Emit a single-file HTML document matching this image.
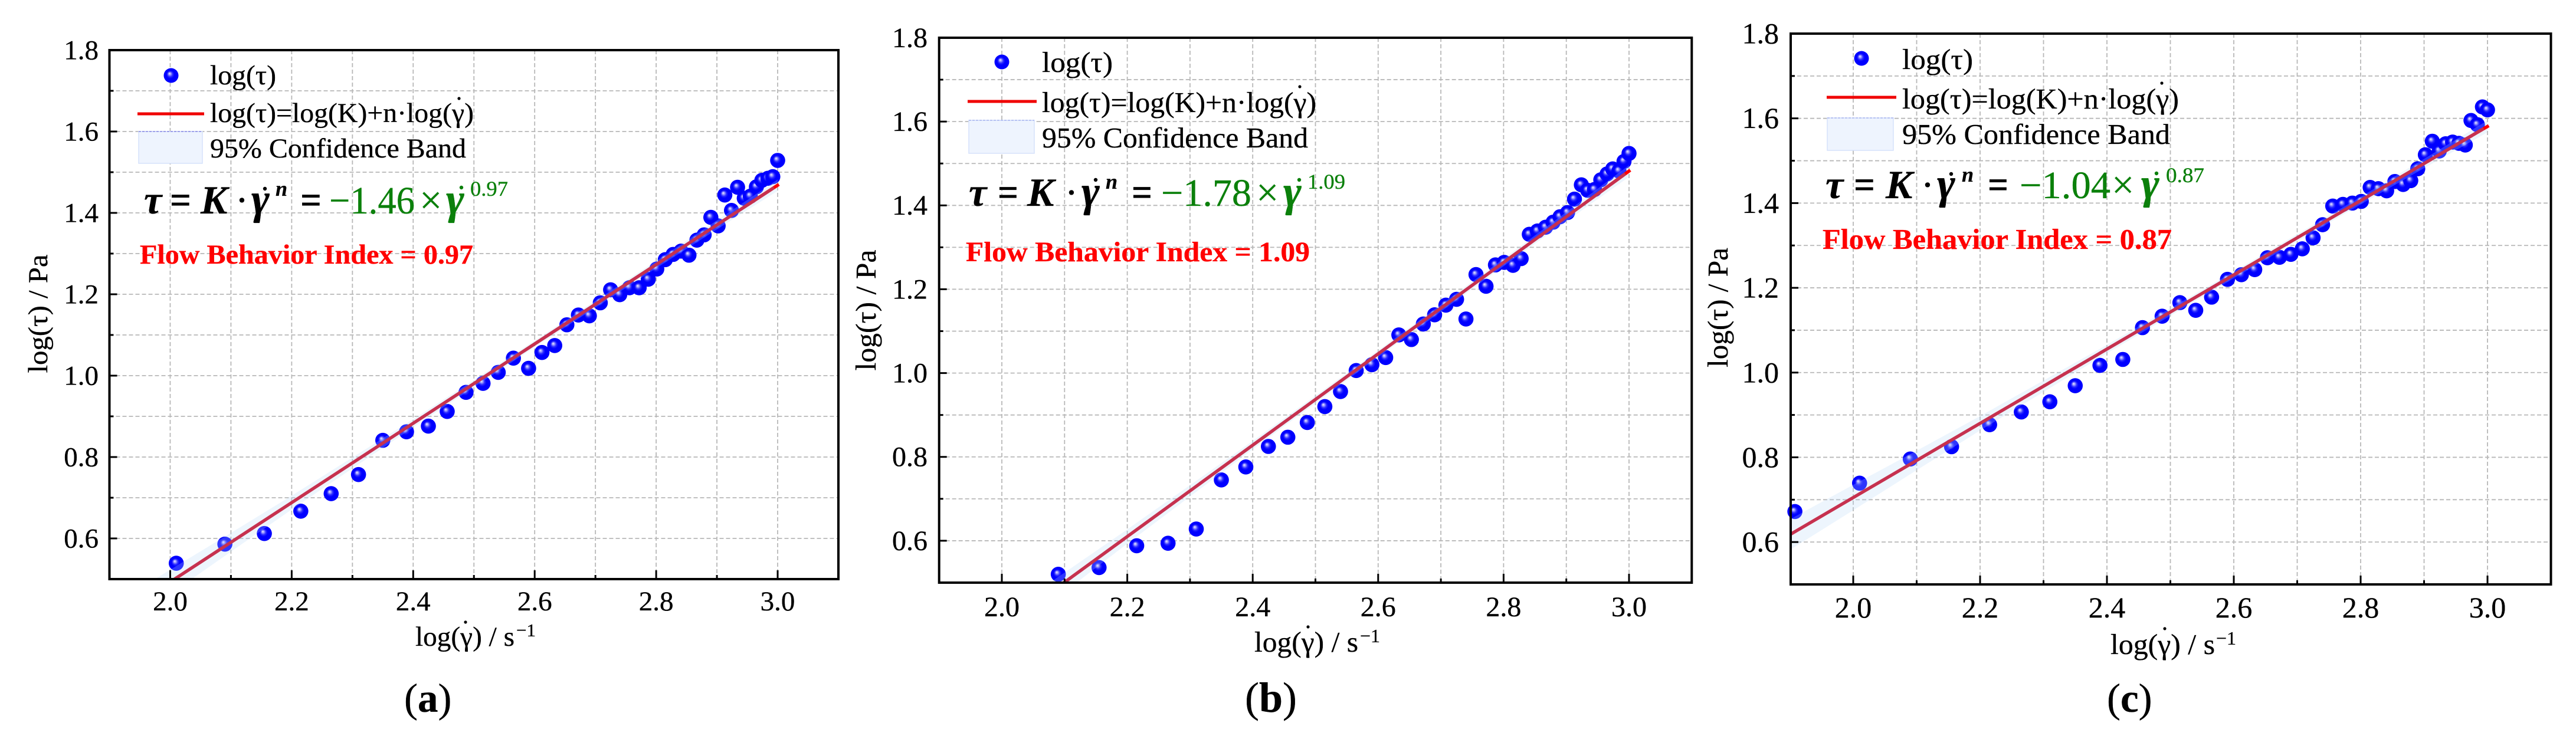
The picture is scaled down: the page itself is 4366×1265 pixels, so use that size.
<!DOCTYPE html>
<html lang="en">
<head>
<meta charset="utf-8">
<title>Flow behaviour log-log fits</title>
<style>
html,body{margin:0;padding:0;background:#fff}
#figure{display:block;width:4366px;height:1265px}
text{font-family:"Liberation Serif",serif;fill:#000;stroke:#000;stroke-width:0.35px}
.bi{font-weight:bold;font-style:italic}
.b{font-weight:bold}
text.g{fill:#0b800b;stroke:#0b800b}
text.r{fill:#ff0000;stroke:#ff0000;font-weight:bold}
</style>
</head>
<body>
<svg id="figure" xmlns="http://www.w3.org/2000/svg" width="4366" height="1265" viewBox="0 0 4366 1265">
<defs>
<radialGradient id="ball" cx="0.5" cy="0.5" r="0.5" fx="0.39" fy="0.36">
<stop offset="0" stop-color="#eeeeff"/>
<stop offset="0.14" stop-color="#a8a8ff"/>
<stop offset="0.36" stop-color="#2a2aff"/>
<stop offset="0.55" stop-color="#0000ff"/>
<stop offset="1" stop-color="#0000ff"/>
</radialGradient>
<clipPath id="clip-a"><rect x="185.5" y="85" width="1235.5" height="897"/></clipPath>
<clipPath id="clip-b"><rect x="1591.7" y="64" width="1275.6" height="924"/></clipPath>
<clipPath id="clip-c"><rect x="3035" y="57" width="1288.5" height="934"/></clipPath>
</defs>
<rect x="0" y="0" width="4366" height="1265" fill="#fff"/>

<g id="plot-a"></g>
<g id="plot-b"></g>
<g id="plot-c"></g>

<!-- Panel A text -->
<g>
  <text font-size="47" text-anchor="middle" textLength="201" lengthAdjust="spacingAndGlyphs" transform="translate(80,532) rotate(-90)">log(τ) / Pa</text>
  <text x="704" y="1095" font-size="47" textLength="168" lengthAdjust="spacingAndGlyphs">log(γ) / s</text>
  <text x="875" y="1079" font-size="31">−1</text>
  <circle cx="789" cy="1055" r="2.6" fill="#000"/>
  <circle cx="290" cy="128" r="12.5" fill="url(#ball)"/>
  <text x="356" y="143" font-size="47" textLength="112" lengthAdjust="spacingAndGlyphs">log(τ)</text>
  <line x1="233" y1="193" x2="346" y2="193" stroke="#f00000" stroke-width="5"/>
  <text x="356" y="207" font-size="47" textLength="447" lengthAdjust="spacingAndGlyphs">log(τ)=log(K)+n·log(γ)</text>
  <circle cx="778" cy="167" r="2.6" fill="#000"/>
  <rect x="235" y="223" width="108" height="54" fill="#eef4fe" stroke="#d6e2fb" stroke-width="1.5"/>
  <line x1="235" y1="223" x2="343" y2="223" stroke="#8a8ae6" stroke-width="1.5" stroke-dasharray="4 2"/>
  <text x="356" y="267" font-size="47" textLength="434" lengthAdjust="spacingAndGlyphs">95% Confidence Band</text>

  <g font-size="68">
    <text class="bi" x="244" y="362">τ</text>
    <text class="b" x="288" y="362" textLength="36" lengthAdjust="spacingAndGlyphs">=</text>
    <text class="bi" x="340" y="362">K</text>
    <text x="410" y="362" text-anchor="middle">·</text>
    <text class="bi" x="426" y="362" font-size="74">γ</text>
    <circle cx="449" cy="320" r="3.2" fill="#000"/>
    <text class="bi" x="467" y="332" font-size="36">n</text>
    <text class="b" x="509" y="362" textLength="36" lengthAdjust="spacingAndGlyphs">=</text>
    <text class="g" x="558" y="362" font-size="66" textLength="145" lengthAdjust="spacingAndGlyphs">−1.46</text>
    <text class="g" x="711" y="362">×</text>
    <text class="bi g" x="756" y="362" font-size="74">γ</text>
    <circle cx="782" cy="318" r="3.2" fill="#0b800b"/>
    <text class="g" x="797" y="332" font-size="36" textLength="64" lengthAdjust="spacingAndGlyphs">0.97</text>
  </g>
  <text class="r" x="237" y="447" font-size="47" textLength="565" lengthAdjust="spacingAndGlyphs">Flow Behavior Index = 0.97</text>
  <text x="685" y="1207" font-size="69">(<tspan class="b">a</tspan>)</text>
</g>

<!-- Panel B text -->
<g>
  <text font-size="49" text-anchor="middle" textLength="205" lengthAdjust="spacingAndGlyphs" transform="translate(1484,526) rotate(-90)">log(τ) / Pa</text>
  <text x="2126" y="1105" font-size="49" textLength="176" lengthAdjust="spacingAndGlyphs">log(γ) / s</text>
  <text x="2305" y="1089" font-size="32">−1</text>
  <circle cx="2217" cy="1063" r="2.6" fill="#000"/>
  <circle cx="1698" cy="105" r="12.5" fill="url(#ball)"/>
  <text x="1766" y="122" font-size="49" textLength="120" lengthAdjust="spacingAndGlyphs">log(τ)</text>
  <line x1="1640" y1="172" x2="1757" y2="172" stroke="#f00000" stroke-width="5"/>
  <text x="1766" y="190" font-size="49" textLength="465" lengthAdjust="spacingAndGlyphs">log(τ)=log(K)+n·log(γ)</text>
  <circle cx="2203" cy="147" r="2.6" fill="#000"/>
  <rect x="1642" y="204" width="111" height="56" fill="#eef4fe" stroke="#d6e2fb" stroke-width="1.5"/>
  <line x1="1642" y1="204" x2="1753" y2="204" stroke="#a8b4ee" stroke-width="1.5" stroke-dasharray="4 2"/>
  <text x="1766" y="250" font-size="49" textLength="451" lengthAdjust="spacingAndGlyphs">95% Confidence Band</text>

  <g font-size="68">
    <text class="bi" x="1642" y="349">τ</text>
    <text class="b" x="1691" y="349" textLength="35" lengthAdjust="spacingAndGlyphs">=</text>
    <text class="bi" x="1741" y="349">K</text>
    <text x="1816" y="349" text-anchor="middle">·</text>
    <text class="bi" x="1833" y="349" font-size="74">γ</text>
    <circle cx="1857" cy="305" r="3.2" fill="#000"/>
    <text class="bi" x="1874" y="320" font-size="36">n</text>
    <text class="b" x="1918" y="349" textLength="35" lengthAdjust="spacingAndGlyphs">=</text>
    <text class="g" x="1968" y="349" font-size="66" textLength="153" lengthAdjust="spacingAndGlyphs">−1.78</text>
    <text class="g" x="2129" y="349">×</text>
    <text class="bi g" x="2175" y="349" font-size="74">γ</text>
    <circle cx="2202" cy="305" r="3.2" fill="#0b800b"/>
    <text class="g" x="2216" y="320" font-size="36" textLength="64" lengthAdjust="spacingAndGlyphs">1.09</text>
  </g>
  <text class="r" x="1637" y="443" font-size="48" textLength="583" lengthAdjust="spacingAndGlyphs">Flow Behavior Index = 1.09</text>
  <text x="2110" y="1207" font-size="72">(<tspan class="b">b</tspan>)</text>
</g>

<!-- Panel C text -->
<g>
  <text font-size="49" text-anchor="middle" textLength="203" lengthAdjust="spacingAndGlyphs" transform="translate(2928,521.5) rotate(-90)">log(τ) / Pa</text>
  <text x="3577" y="1109" font-size="49" textLength="177" lengthAdjust="spacingAndGlyphs">log(γ) / s</text>
  <text x="3756" y="1093" font-size="32">−1</text>
  <circle cx="3669" cy="1066" r="2.6" fill="#000"/>
  <circle cx="3155" cy="99" r="12.5" fill="url(#ball)"/>
  <text x="3224" y="117" font-size="49" textLength="120" lengthAdjust="spacingAndGlyphs">log(τ)</text>
  <line x1="3096" y1="165" x2="3214" y2="165" stroke="#f00000" stroke-width="5"/>
  <text x="3224" y="184" font-size="49" textLength="469" lengthAdjust="spacingAndGlyphs">log(τ)=log(K)+n·log(γ)</text>
  <circle cx="3664" cy="141" r="2.6" fill="#000"/>
  <rect x="3097" y="200" width="112" height="55" fill="#eef4fe" stroke="#d6e2fb" stroke-width="1.5"/>
  <line x1="3097" y1="200" x2="3209" y2="200" stroke="#a8b4ee" stroke-width="1.5" stroke-dasharray="4 2"/>
  <text x="3224" y="244" font-size="49" textLength="454" lengthAdjust="spacingAndGlyphs">95% Confidence Band</text>

  <g font-size="68">
    <text class="bi" x="3094" y="336">τ</text>
    <text class="b" x="3142" y="336" textLength="36" lengthAdjust="spacingAndGlyphs">=</text>
    <text class="bi" x="3196" y="336">K</text>
    <text x="3267" y="336" text-anchor="middle">·</text>
    <text class="bi" x="3283" y="336" font-size="74">γ</text>
    <circle cx="3307" cy="295" r="3.2" fill="#000"/>
    <text class="bi" x="3325" y="308" font-size="36">n</text>
    <text class="b" x="3369" y="336" textLength="35" lengthAdjust="spacingAndGlyphs">=</text>
    <text class="g" x="3423" y="336" font-size="66" textLength="154" lengthAdjust="spacingAndGlyphs">−1.04</text>
    <text class="g" x="3579" y="336">×</text>
    <text class="bi g" x="3629" y="336" font-size="74">γ</text>
    <circle cx="3655" cy="294" r="3.2" fill="#0b800b"/>
    <text class="g" x="3671" y="309" font-size="36" textLength="65" lengthAdjust="spacingAndGlyphs">0.87</text>
  </g>
  <text class="r" x="3089" y="422" font-size="49" textLength="592" lengthAdjust="spacingAndGlyphs">Flow Behavior Index = 0.87</text>
  <text x="3571" y="1207" font-size="69">(<tspan class="b">c</tspan>)</text>
</g>
</svg>

<script>
// ---- chart data ----
var logShearRate = [1.908,2.010,2.090,2.155,2.215,2.265,2.310,2.350,2.389,2.425,2.456,2.487,2.515,2.540,2.565,2.590,2.612,2.633,2.653,2.672,2.690,2.708,2.725,2.740,2.756,2.772,2.787,2.801,2.815,2.828,2.841,2.854,2.867,2.879,2.890,2.902,2.913,2.924,2.934,2.945,2.955,2.965,2.974,2.984,2.992,3.000];
var logStressA = [0.539,0.586,0.612,0.667,0.710,0.757,0.841,0.862,0.876,0.912,0.959,0.981,1.008,1.043,1.018,1.057,1.074,1.125,1.149,1.147,1.179,1.211,1.199,1.216,1.216,1.237,1.262,1.285,1.298,1.306,1.296,1.333,1.346,1.389,1.368,1.444,1.406,1.463,1.436,1.441,1.464,1.480,1.485,1.489,1.529];
var logStressB = [0.520,0.536,0.588,0.594,0.628,0.745,0.776,0.825,0.847,0.882,0.920,0.956,1.006,1.020,1.037,1.091,1.080,1.117,1.139,1.162,1.176,1.129,1.235,1.207,1.258,1.264,1.257,1.273,1.331,1.339,1.348,1.360,1.373,1.383,1.415,1.449,1.436,1.438,1.461,1.475,1.487,1.482,1.505,1.524];
var logStressC = [0.672,0.739,0.796,0.825,0.877,0.907,0.931,0.969,1.017,1.031,1.106,1.133,1.165,1.147,1.178,1.220,1.231,1.243,1.271,1.272,1.279,1.292,1.318,1.349,1.393,1.397,1.400,1.404,1.437,1.434,1.429,1.451,1.444,1.453,1.481,1.514,1.546,1.523,1.540,1.544,1.541,1.537,1.595,1.585,1.627,1.620];
var fitSlopes = [0.975,1.090,0.876];
var fitIntercepts = [-1.457,-1.788,-1.047];
var bandX = [1.9,2.0,2.1,2.2,2.4,2.6,2.8,2.9,3.0];
var bandHalfWidth = [0.036,0.030,0.023,0.017,0.010,0.008,0.009,0.011,0.014];
var xTickLabels = ["2.0","2.2","2.4","2.6","2.8","3.0"];
var xMinorTicks = [2.1,2.3,2.5,2.7,2.9];
var yTickLabels = ["0.6","0.8","1.0","1.2","1.4","1.6","1.8"];
var yMinorTicks = [0.7,0.9,1.1,1.3,1.5,1.7];
var xDomain = [1.9,3.1];
var yDomain = [0.5,1.8];

// ---- panel layout ----
var panelA = {id:'a',left:185.5,right:1421,top:85,bottom:982,font:47,labelRight:167,xBase:1035,series:logStressA,fit:0};
var panelB = {id:'b',left:1591.7,right:2867.3,top:64,bottom:988,font:48,labelRight:1572,xBase:1045,series:logStressB,fit:1};
var panelC = {id:'c',left:3035,right:4323.5,top:57,bottom:991,font:50,labelRight:3015,xBase:1047,series:logStressC,fit:2};
var NS = 'http://www.w3.org/2000/svg';

function make(parent, tag, attrs, txt){
  var e = document.createElementNS(NS, tag);
  for (var k in attrs) e.setAttribute(k, attrs[k]);
  if (txt !== undefined) e.textContent = txt;
  parent.appendChild(e);
  return e;
}

function drawPanel(p){
  var root = document.getElementById('plot-' + p.id);
  var xLeft = p.id === 'c' ? 3033.5 : p.left;
  function X(v){ return xLeft + (v - xDomain[0]) / (xDomain[1] - xDomain[0]) * (p.right - xLeft); }
  function Y(v){ return p.bottom - (v - yDomain[0]) / (yDomain[1] - yDomain[0]) * (p.bottom - p.top); }

  // grid
  var gridX = xTickLabels.map(Number).concat(xMinorTicks);
  var gridY = yTickLabels.map(Number).concat(yMinorTicks);
  gridX.forEach(function(v){
    var g = make(root,'line',{x1:X(v),x2:X(v),y1:p.top,y2:p.bottom,stroke:'#b8b8b8','stroke-width':1.8,'stroke-dasharray':'7 4'});
    
    
  });
  gridY.forEach(function(v){
    if (v === yDomain[1]) return;
    var g = make(root,'line',{x1:p.left,x2:p.right,y1:Y(v),y2:Y(v),stroke:'#b8b8b8','stroke-width':1.8,'stroke-dasharray':'7 4'});
    
    
  });

  // data points
  var xs = logShearRate.slice(logShearRate.length - p.series.length);
  p.series.forEach(function(v,i){
    var c = make(root,'circle',{cx:X(xs[i]),cy:Y(v),r:12.8,fill:'url(#ball)'});
    
    
  });

  // confidence band and fit line
  var slope = fitSlopes[p.fit], icpt = fitIntercepts[p.fit];
  function fit(x){ return slope * x + icpt; }
  var upper = bandX.map(function(x,i){ return X(x) + ',' + Y(fit(x) + bandHalfWidth[i]); });
  var lower = bandX.map(function(x,i){ return X(x) + ',' + Y(fit(x) - bandHalfWidth[i]); }).reverse();
  var band = make(root,'polygon',{points:upper.concat(lower).join(' '),fill:'#b8d8f8','fill-opacity':0.25,'clip-path':'url(#clip-' + p.id + ')'});
  
  
  var tail = make(root,'line',{x1:X(2.95),y1:Y(fit(2.95)),x2:X(3.002),y2:Y(fit(3.002)),stroke:'#ff0000','stroke-width':5.5});
  
  
  var fitLine = make(root,'line',{x1:X(1.9),y1:Y(fit(1.9)),x2:X(2.994),y2:Y(fit(2.994)),stroke:'#c6314f','stroke-width':5.5,'clip-path':'url(#clip-' + p.id + ')'});
  
  

  // ticks
  xTickLabels.forEach(function(t){
    var v = Number(t);
    var m = make(root,'line',{x1:X(v),x2:X(v),y1:p.bottom,y2:p.bottom-15,stroke:'#000','stroke-width':3});
    
    
    var l = make(root,'text',{x:X(v),y:p.xBase,'font-size':p.font,'text-anchor':'middle'},t);
    
    
  });
  xMinorTicks.forEach(function(v){
    var m = make(root,'line',{x1:X(v),x2:X(v),y1:p.bottom,y2:p.bottom-7,stroke:'#000','stroke-width':3});
    
    
  });
  yTickLabels.forEach(function(t){
    var v = Number(t);
    var m = make(root,'line',{x1:p.left,x2:p.left+13,y1:Y(v),y2:Y(v),stroke:'#000','stroke-width':3});
    
    
    var l = make(root,'text',{x:p.labelRight,y:Y(v)+p.font*0.33,'font-size':p.font,'text-anchor':'end'},t);
    
    
  });
  yMinorTicks.forEach(function(v){
    var m = make(root,'line',{x1:p.left,x2:p.left+7,y1:Y(v),y2:Y(v),stroke:'#000','stroke-width':3});
    
    
  });

  // frame
  var frame = make(root,'rect',{x:p.left,y:p.top,width:p.right-p.left,height:p.bottom-p.top,fill:'none',stroke:'#000','stroke-width':4});
  
  
}

drawPanel(panelA);
drawPanel(panelB);
drawPanel(panelC);
</script>
</body>
</html>
